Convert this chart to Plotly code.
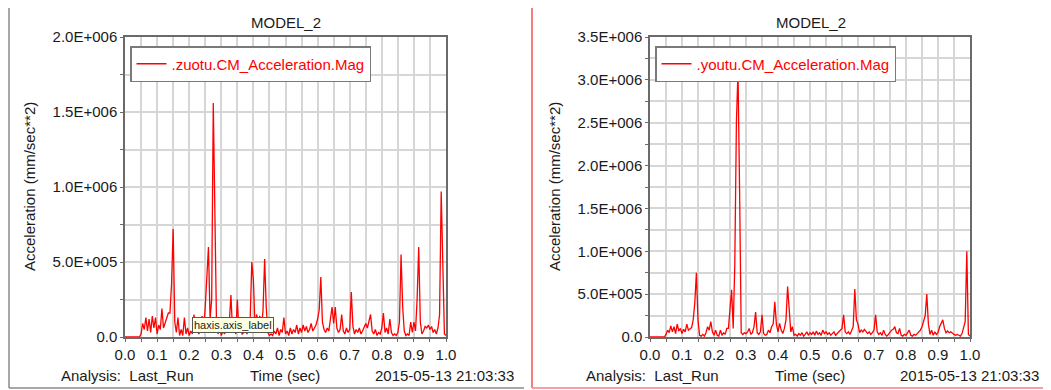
import plotly.graph_objects as go

# ---------------- data ----------------
time_sec = [
    0.000, 0.005, 0.010, 0.015, 0.020, 0.025, 0.030, 0.035, 0.040, 0.045,
    0.050, 0.055, 0.060, 0.065, 0.070, 0.075, 0.080, 0.085, 0.090, 0.095,
    0.100, 0.105, 0.110, 0.115, 0.120, 0.125, 0.130, 0.135, 0.140, 0.145,
    0.150, 0.155, 0.160, 0.165, 0.170, 0.175, 0.180, 0.185, 0.190, 0.195,
    0.200, 0.205, 0.210, 0.215, 0.220, 0.225, 0.230, 0.235, 0.240, 0.245,
    0.250, 0.255, 0.260, 0.265, 0.270, 0.275, 0.280, 0.285, 0.290, 0.295,
    0.300, 0.305, 0.310, 0.315, 0.320, 0.325, 0.330, 0.335, 0.340, 0.345,
    0.350, 0.355, 0.360, 0.365, 0.370, 0.375, 0.380, 0.385, 0.390, 0.395,
    0.400, 0.405, 0.410, 0.415, 0.420, 0.425, 0.430, 0.435, 0.440, 0.445,
    0.450, 0.455, 0.460, 0.465, 0.470, 0.475, 0.480, 0.485, 0.490, 0.495,
    0.500, 0.505, 0.510, 0.515, 0.520, 0.525, 0.530, 0.535, 0.540, 0.545,
    0.550, 0.555, 0.560, 0.565, 0.570, 0.575, 0.580, 0.585, 0.590, 0.595,
    0.600, 0.605, 0.610, 0.615, 0.620, 0.625, 0.630, 0.635, 0.640, 0.645,
    0.650, 0.655, 0.660, 0.665, 0.670, 0.675, 0.680, 0.685, 0.690, 0.695,
    0.700, 0.705, 0.710, 0.715, 0.720, 0.725, 0.730, 0.735, 0.740, 0.745,
    0.750, 0.755, 0.760, 0.765, 0.770, 0.775, 0.780, 0.785, 0.790, 0.795,
    0.800, 0.805, 0.810, 0.815, 0.820, 0.825, 0.830, 0.835, 0.840, 0.845,
    0.850, 0.855, 0.860, 0.865, 0.870, 0.875, 0.880, 0.885, 0.890, 0.895,
    0.900, 0.905, 0.910, 0.915, 0.920, 0.925, 0.930, 0.935, 0.940, 0.945,
    0.950, 0.955, 0.960, 0.965, 0.970, 0.975, 0.980, 0.985, 0.990, 0.995,
    1.000,
]

zuotu_acc = [
    0, 0, 0, 0, 0, 0, 0, 0, 0, 0,
    0.2e5, 0.9e5, 0.5e5, 1.3e5, 0.4e5, 1.2e5, 0.3e5, 1.4e5, 0.6e5, 1.3e5,
    0.2e5, 0.8e5, 0.5e5, 1.9e5, 0.6e5, 0.9e5, 1.2e5, 1.6e5, 1.6e5, 3.5e5,
    7.2e5, 1.0e5, 0.3e5, 1.3e5, 0.1e5, 0.5e5, 0.1e5, 1.3e5, 0.2e5, 0.6e5,
    0.1e5, 0.4e5, 0.2e5, 1.5e5, 0.3e5, 0.6e5, 0.2e5, 0.5e5, 1.4e5, 0.6e5,
    2.0e5, 4.2e5, 6.0e5, 1.2e5, 2.5e5, 15.6e5, 7.8e5, 1.0e5, 0.2e5, 0.6e5,
    0.1e5, 0.4e5, 0.2e5, 0.5e5, 0.3e5, 1.0e5, 2.8e5, 0.4e5, 0.7e5, 0.2e5,
    2.5e5, 0.3e5, 0.6e5, 0.2e5, 0.3e5, 0.5e5, 0.2e5, 0.8e5, 1.2e5, 5.0e5,
    3.8e5, 0.6e5, 1.5e5, 1.0e5, 1.4e5, 0.5e5, 1.8e5, 5.2e5, 2.0e5, 0.3e5,
    0.1e5, 0.2e5, 0.1e5, 0.4e5, 0.2e5, 0.6e5, 0.1e5, 0.5e5, 0.3e5, 1.3e5,
    0.2e5, 0.4e5, 0.1e5, 0.6e5, 0.2e5, 0.5e5, 0.3e5, 0.8e5, 0.2e5, 0.6e5,
    0.3e5, 0.8e5, 0.4e5, 0.7e5, 0.3e5, 0.5e5, 0.9e5, 0.4e5, 0.6e5, 0.8e5,
    1.2e5, 1.8e5, 4.0e5, 1.0e5, 0.5e5, 0.3e5, 0.6e5, 0.4e5, 1.2e5, 2.0e5,
    0.9e5, 2.0e5, 0.6e5, 0.3e5, 0.5e5, 1.5e5, 0.4e5, 0.2e5, 0.6e5, 0.3e5,
    0.5e5, 3.0e5, 0.7e5, 0.2e5, 0.5e5, 0.3e5, 0.6e5, 0.2e5, 0.4e5, 0.7e5,
    0.9e5, 0.6e5, 1.0e5, 1.5e5, 0.4e5, 0.2e5, 0.5e5, 0.1e5, 0.3e5, 0.2e5,
    0.6e5, 1.6e5, 0.3e5, 0.6e5, 0.2e5, 1.2e5, 0.3e5, 0.1e5, 0.2e5, 0.1e5,
    0.3e5, 1.0e5, 5.5e5, 2.0e5, 0.4e5, 0.1e5, 0.2e5, 0.1e5, 1.0e5, 0.3e5,
    1.0e5, 0.4e5, 2.5e5, 6.0e5, 1.0e5, 0.2e5, 0.4e5, 0.7e5, 0.6e5, 0.8e5,
    0.5e5, 0.7e5, 0.3e5, 0.5e5, 0.2e5, 0.6e5, 1.5e5, 9.7e5, 5.0e5, 0.2e5,
    0.1e5,
]

youtu_acc = [
    0, 0, 0, 0, 0, 0, 0, 0, 0, 0,
    0.3e5, 0.8e5, 0.5e5, 1.3e5, 0.6e5, 1.2e5, 0.4e5, 1.5e5, 0.7e5, 1.0e5,
    0.4e5, 0.9e5, 0.6e5, 1.5e5, 0.8e5, 1.0e5, 1.1e5, 2.0e5, 4.0e5, 7.5e5,
    2.0e5, 0.2e5, 0.1e5, 0.3e5, 0.1e5, 0.5e5, 1.2e5, 0.8e5, 1.8e5, 0.6e5,
    0.2e5, 0.8e5, 0.2e5, 0.1e5, 0.8e5, 0.2e5, 0.5e5, 0.3e5, 1.0e5, 1.0e5,
    3.0e5, 5.5e5, 1.0e5, 8.5e5, 25.0e5, 31.0e5, 17.0e5, 0.5e5, 0.3e5, 0.5e5,
    0.4e5, 0.6e5, 1.0e5, 0.3e5, 0.5e5, 1.2e5, 2.9e5, 0.5e5, 0.3e5, 0.6e5,
    2.6e5, 0.4e5, 0.2e5, 0.3e5, 0.8e5, 0.5e5, 1.2e5, 1.5e5, 4.1e5, 1.5e5,
    0.6e5, 1.6e5, 0.8e5, 0.4e5, 1.0e5, 2.0e5, 5.9e5, 3.0e5, 0.6e5, 1.2e5,
    0.2e5, 0.3e5, 0.1e5, 0.4e5, 0.2e5, 0.5e5, 0.1e5, 0.3e5, 0.6e5, 0.2e5,
    0.5e5, 0.3e5, 0.6e5, 0.2e5, 0.7e5, 0.3e5, 0.5e5, 0.2e5, 0.8e5, 0.4e5,
    0.6e5, 0.3e5, 0.5e5, 0.2e5, 0.4e5, 0.6e5, 0.2e5, 0.4e5, 0.7e5, 0.9e5,
    1.0e5, 2.6e5, 0.6e5, 0.4e5, 0.6e5, 0.3e5, 0.8e5, 1.2e5, 5.6e5, 2.0e5,
    1.5e5, 0.5e5, 0.8e5, 0.6e5, 0.9e5, 0.7e5, 0.4e5, 0.6e5, 0.3e5, 0.5e5,
    0.8e5, 2.6e5, 0.6e5, 0.3e5, 0.5e5, 0.2e5, 0.8e5, 0.3e5, 0.1e5, 0.3e5,
    0.6e5, 0.8e5, 0.9e5, 1.2e5, 0.5e5, 0.4e5, 1.0e5, 0.2e5, 0.1e5, 0.3e5,
    0.2e5, 0.5e5, 0.8e5, 0.2e5, 0.1e5, 0.3e5, 0.2e5, 0.4e5, 0.6e5, 0.8e5,
    1.2e5, 2.0e5, 2.5e5, 5.0e5, 1.5e5, 0.3e5, 0.8e5, 0.2e5, 0.6e5, 0.3e5,
    0.5e5, 1.2e5, 1.6e5, 2.0e5, 1.0e5, 0.5e5, 0.7e5, 0.5e5, 0.6e5, 0.4e5,
    0.3e5, 0.2e5, 0.3e5, 0.2e5, 0.1e5, 0.4e5, 1.0e5, 1.8e5, 10.0e5, 0.3e5,
    0.1e5,
]

x_tickvals = [0.0, 0.05, 0.1, 0.15, 0.2, 0.25, 0.3, 0.35, 0.4, 0.45, 0.5,
              0.55, 0.6, 0.65, 0.7, 0.75, 0.8, 0.85, 0.9, 0.95, 1.0]
x_ticktext = ["0.0", "", "0.1", "", "0.2", "", "0.3", "", "0.4", "", "0.5",
              "", "0.6", "", "0.7", "", "0.8", "", "0.9", "", "1.0"]

y1_tickvals = [0, 2.5e5, 5e5, 7.5e5, 1e6, 1.25e6, 1.5e6, 1.75e6, 2e6]
y1_ticktext = ["0.0", "", "5.0E+005", "", "1.0E+006", "", "1.5E+006", "", "2.0E+006"]
y2_tickvals = [0, 2.5e5, 5e5, 7.5e5, 1e6, 1.25e6, 1.5e6, 1.75e6, 2e6, 2.25e6,
               2.5e6, 2.75e6, 3e6, 3.25e6, 3.5e6]
y2_ticktext = ["0.0", "", "5.0E+005", "", "1.0E+006", "", "1.5E+006", "", "2.0E+006", "",
               "2.5E+006", "", "3.0E+006", "", "3.5E+006"]

name_left = ".zuotu.CM_Acceleration.Mag"
name_right = ".youtu.CM_Acceleration.Mag"
plot_title = "MODEL_2"
y_title = "Acceleration (mm/sec**2)"
x_title = "Time (sec)"
analysis_text = "Analysis:  Last_Run"
date_text = "2015-05-13 21:03:33"
tooltip_text = "haxis.axis_label"

# ---------------- figure ----------------
# The page body has an 8px margin, so the figure is shrunk by 8px and
# all design coordinates (window pixels) are shifted accordingly.
OFF = 8
W, H = 1051 - OFF, 390 - OFF
FONT = "Liberation Sans, Arial, sans-serif"


def px(x):
    return (x - OFF) / W


def py(y):
    return 1 - (y - OFF) / H


fig = go.Figure()
fig.add_trace(go.Scatter(x=time_sec, y=zuotu_acc, mode="lines", name=name_left,
                         line=dict(color="#ff0000", width=1.3),
                         xaxis="x", yaxis="y", legend="legend"))
fig.add_trace(go.Scatter(x=time_sec, y=youtu_acc, mode="lines", name=name_right,
                         line=dict(color="#ff0000", width=1.3),
                         xaxis="x2", yaxis="y2", legend="legend2"))

axis_common = dict(showgrid=True, gridcolor="#d6d6d6", gridwidth=1.5,
                   showline=True, linecolor="#6a6a6a", linewidth=1.5, mirror=True,
                   ticks="outside", ticklen=3, tickcolor="#6a6a6a",
                   tickfont=dict(family=FONT, size=15, color="#1a1a1a"),
                   zeroline=False, fixedrange=True, automargin=False)

fig.update_layout(
    template="none",
    width=W, height=H,
    margin=dict(l=0, r=0, t=0, b=0, pad=0, autoexpand=False),
    paper_bgcolor="white", plot_bgcolor="white",
    font=dict(family=FONT, size=15, color="#1a1a1a"),
    xaxis=dict(domain=[px(125), px(446)], range=[0, 1], anchor="y",
               tickmode="array", tickvals=x_tickvals, ticktext=x_ticktext, **axis_common),
    yaxis=dict(domain=[py(337), py(37)], range=[0, 2e6], anchor="x",
               tickmode="array", tickvals=y1_tickvals, ticktext=y1_ticktext, **axis_common),
    xaxis2=dict(domain=[px(650), px(970)], range=[0, 1], anchor="y2",
                tickmode="array", tickvals=x_tickvals, ticktext=x_ticktext, **axis_common),
    yaxis2=dict(domain=[py(337), py(37)], range=[0, 3.5e6], anchor="x2",
                tickmode="array", tickvals=y2_tickvals, ticktext=y2_ticktext, **axis_common),
    legend=dict(x=px(130), y=py(46), xanchor="left", yanchor="top",
                bgcolor="white", bordercolor="#7a7a7a", borderwidth=1.5,
                font=dict(family=FONT, size=15, color="#ff0000"),
                itemwidth=30, tracegroupgap=0),
    legend2=dict(x=px(655), y=py(46), xanchor="left", yanchor="top",
                 bgcolor="white", bordercolor="#7a7a7a", borderwidth=1.5,
                 font=dict(family=FONT, size=15, color="#ff0000"),
                 itemwidth=30, tracegroupgap=0),
    showlegend=True,
)

annotations = []
for off in (0, 525):
    annotations.append(dict(x=px(286 + off), y=py(23), xref="paper", yref="paper",
                            text=plot_title, showarrow=False,
                            xanchor="center", yanchor="middle",
                            font=dict(family=FONT, size=15, color="#1a1a1a")))
    annotations.append(dict(x=px(29 + off), y=py(187), xref="paper", yref="paper",
                            text=y_title, showarrow=False, textangle=-90,
                            xanchor="center", yanchor="middle",
                            font=dict(family=FONT, size=15, color="#1a1a1a")))
    annotations.append(dict(x=px(59 + off), y=py(375), xref="paper", yref="paper",
                            text=analysis_text.replace("  ", "&nbsp;&nbsp;"),
                            showarrow=False, xanchor="left", yanchor="middle",
                            font=dict(family=FONT, size=15, color="#1a1a1a")))
    annotations.append(dict(x=px(285 + off), y=py(375), xref="paper", yref="paper",
                            text=x_title, showarrow=False,
                            xanchor="center", yanchor="middle",
                            font=dict(family=FONT, size=15, color="#1a1a1a")))
    annotations.append(dict(x=px(516 + off), y=py(375), xref="paper", yref="paper",
                            text=date_text, showarrow=False,
                            xanchor="right", yanchor="middle",
                            font=dict(family=FONT, size=15, color="#1a1a1a")))

annotations.append(dict(x=px(233), y=py(325), xref="paper", yref="paper",
                        text=tooltip_text, showarrow=False,
                        xanchor="center", yanchor="middle",
                        bgcolor="#ffffe1", bordercolor="#555555", borderwidth=1, borderpad=1,
                        font=dict(family=FONT, size=11, color="#222222")))
fig.update_layout(annotations=annotations)

shapes = [
    # left panel frame
    dict(type="line", xref="paper", yref="paper", x0=px(9), x1=px(9), y0=py(8), y1=py(388),
         line=dict(color="#8a8a8a", width=1.5)),
    dict(type="line", xref="paper", yref="paper", x0=px(9), x1=px(524), y0=py(388), y1=py(388),
         line=dict(color="#8a8a8a", width=1.5)),
    # right panel frame (highlighted)
    dict(type="line", xref="paper", yref="paper", x0=px(532), x1=px(532), y0=py(8), y1=py(388),
         line=dict(color="#f08080", width=2)),
    dict(type="line", xref="paper", yref="paper", x0=px(532), x1=px(1051), y0=py(388), y1=py(388),
         line=dict(color="#f4a0a0", width=2)),
]
fig.update_layout(shapes=shapes)

fig.write_html("out.html")
